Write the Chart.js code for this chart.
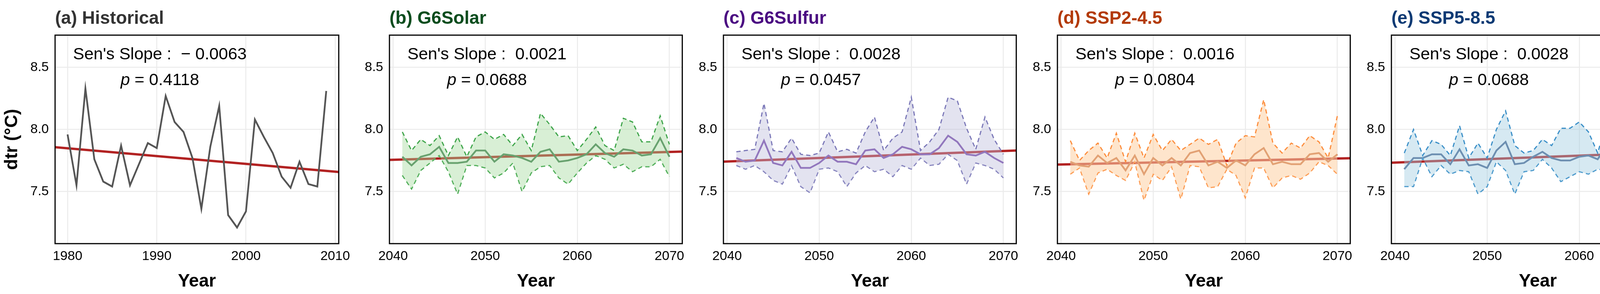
<!DOCTYPE html>
<html><head><meta charset="utf-8">
<meta name="viewport" content="width=4357">
<script src="https://cdn.jsdelivr.net/npm/chart.js@4.4.0/dist/chart.umd.min.js"></script>
<style>
html{margin:0;overflow:hidden}
body{margin:0;background:#fff;width:4357px;height:753px;position:relative;overflow:hidden;font-family:"Liberation Sans",Arial,sans-serif}
.cv{position:absolute;top:0;height:753px}
.ttl{position:absolute;top:18px;font-weight:bold;font-size:46px;white-space:nowrap}
.ann{position:absolute;top:104px;font-size:43px;line-height:66px;text-align:center;white-space:pre;color:#000}
</style></head><body>
<script>
// ---- data ----
const histYears = [1980,1981,1982,1983,1984,1985,1986,1987,1988,1989,1990,1991,1992,1993,1994,1995,1996,1997,1998,1999,2000,2001,2002,2003,2004,2005,2006,2007,2008,2009];
const histDtr = [7.96,7.55,8.33,7.76,7.58,7.54,7.87,7.55,7.72,7.89,7.85,8.27,8.06,7.98,7.77,7.36,7.86,8.19,7.31,7.21,7.34,8.08,7.94,7.81,7.62,7.53,7.74,7.56,7.54,8.31];
const futYears = [2041,2042,2043,2044,2045,2046,2047,2048,2049,2050,2051,2052,2053,2054,2055,2056,2057,2058,2059,2060,2061,2062,2063,2064,2065,2066,2067,2068,2069,2070];
const solarMean = [7.78,7.71,7.78,7.80,7.86,7.73,7.73,7.74,7.83,7.83,7.74,7.80,7.79,7.77,7.74,7.82,7.84,7.74,7.75,7.77,7.80,7.88,7.81,7.78,7.84,7.83,7.79,7.80,7.93,7.78];
const solarUp = [7.98,7.83,7.92,7.87,7.95,7.79,7.94,7.78,7.94,7.98,7.92,7.96,7.87,7.96,7.83,8.13,8.04,7.94,7.95,7.83,7.92,8.02,7.87,7.83,8.09,8.06,7.90,7.90,8.11,7.88];
const solarLow = [7.63,7.52,7.67,7.73,7.79,7.66,7.48,7.71,7.71,7.69,7.61,7.65,7.73,7.50,7.65,7.70,7.71,7.61,7.56,7.65,7.73,7.79,7.76,7.69,7.72,7.66,7.70,7.70,7.76,7.62];
const sulfurMean = [7.77,7.74,7.75,7.91,7.73,7.71,7.82,7.69,7.69,7.73,7.79,7.74,7.74,7.72,7.83,7.84,7.77,7.80,7.86,7.84,7.80,7.80,7.85,7.95,7.90,7.80,7.79,7.82,7.77,7.73];
const sulfurUp = [7.82,7.83,7.84,8.21,7.83,7.82,7.93,7.80,7.79,7.81,7.98,7.82,7.84,7.81,7.98,8.10,7.83,7.93,7.98,8.26,7.83,7.90,8.00,8.26,8.23,8.01,7.84,8.10,7.92,7.80];
const sulfurLow = [7.71,7.68,7.71,7.66,7.59,7.56,7.71,7.54,7.49,7.68,7.69,7.66,7.54,7.65,7.71,7.66,7.68,7.62,7.71,7.68,7.77,7.71,7.72,7.80,7.75,7.56,7.73,7.71,7.68,7.61];
const ssp245Mean = [7.74,7.71,7.70,7.79,7.73,7.77,7.67,7.79,7.64,7.77,7.71,7.77,7.71,7.81,7.83,7.71,7.74,7.69,7.75,7.71,7.80,7.85,7.72,7.74,7.72,7.72,7.80,7.81,7.74,7.80];
const ssp245Up = [7.91,7.75,7.83,7.89,7.77,7.97,7.74,7.97,7.77,7.96,7.83,7.92,7.83,7.88,7.93,7.88,7.92,7.71,7.89,7.95,7.94,8.24,7.89,7.81,7.89,7.85,7.95,7.90,7.77,8.11];
const ssp245Low = [7.64,7.69,7.48,7.65,7.68,7.63,7.59,7.74,7.43,7.64,7.59,7.70,7.44,7.71,7.70,7.53,7.54,7.68,7.63,7.45,7.69,7.69,7.53,7.61,7.63,7.60,7.65,7.74,7.71,7.64];
const ssp585Mean = [7.68,7.77,7.77,7.80,7.80,7.72,7.84,7.71,7.72,7.69,7.83,7.90,7.72,7.73,7.78,7.82,7.77,7.75,7.75,7.78,7.79,7.76,7.87,7.78,7.85,7.77,7.85,7.71,7.80,7.89];
const ssp585Up = [7.81,8.00,7.79,7.91,7.88,7.79,8.03,7.77,7.89,7.77,8.00,8.15,7.87,7.81,7.83,7.92,7.87,8.01,8.01,8.06,7.98,7.81,8.07,7.93,8.09,7.80,8.02,7.75,8.00,8.14];
const ssp585Low = [7.54,7.54,7.77,7.62,7.71,7.64,7.67,7.66,7.48,7.54,7.74,7.67,7.48,7.66,7.67,7.76,7.69,7.58,7.62,7.66,7.64,7.68,7.67,7.71,7.73,7.74,7.73,7.68,7.71,7.76];
// trend endpoints [value at axis min, value at axis max]
const histTrend = [7.857,7.657];
const solarTrend = [7.755,7.822];
const sulfurTrend = [7.741,7.830];
const ssp245Trend = [7.717,7.768];
const ssp585Trend = [7.732,7.821];
const histXRange = [1978.6,2010.4];
const futXRange = [2039.6,2071.4];
const histTicks = [1980,1990,2000,2010];
const futTicks = [2040,2050,2060,2070];
const yTicks = [7.5,8.0,8.5];
const yRange = [7.08,8.76];

const panels = [
 {title:'(a) Historical',tc:'#333333',left:141,years:histYears,mean:histDtr,trend:histTrend,xr:histXRange,xt:histTicks,slope:'\u2212 0.0063',p:'0.4118',lc:'#555555'},
 {title:'(b) G6Solar',tc:'#0b4d1e',left:997,years:futYears,mean:solarMean,up:solarUp,low:solarLow,trend:solarTrend,xr:futXRange,xt:futTicks,slope:'0.0021',p:'0.0688',lc:'#3f7a50',dc:'#3ea54a',fc:'rgba(161,217,155,0.42)'},
 {title:'(c) G6Sulfur',tc:'#4b0c82',left:1852,years:futYears,mean:sulfurMean,up:sulfurUp,low:sulfurLow,trend:sulfurTrend,xr:futXRange,xt:futTicks,slope:'0.0028',p:'0.0457',lc:'#7446a8',dc:'#7b78b8',fc:'rgba(188,189,220,0.42)'},
 {title:'(d) SSP2-4.5',tc:'#b33a06',left:2707,years:futYears,mean:ssp245Mean,up:ssp245Up,low:ssp245Low,trend:ssp245Trend,xr:futXRange,xt:futTicks,slope:'0.0016',p:'0.0804',lc:'#c0693d',dc:'#fd8d3c',fc:'rgba(253,208,162,0.55)'},
 {title:'(e) SSP5-8.5',tc:'#0c3a74',left:3562,years:futYears,mean:ssp585Mean,up:ssp585Up,low:ssp585Low,trend:ssp585Trend,xr:futXRange,xt:futTicks,slope:'0.0028',p:'0.0688',lc:'#4a6590',dc:'#3a8fc8',fc:'rgba(158,202,225,0.42)'}
];
const PW=755, TOP=90, BOT=624;
const frame={id:'frame',afterDraw(c){const a=c.chartArea,x=c.ctx;x.save();x.strokeStyle='#000';x.lineWidth=3;x.strokeRect(a.left,a.top,a.right-a.left,a.bottom-a.top);x.restore();}};
const pts=(xs,ys)=>xs.map((v,i)=>({x:v,y:ys[i]}));
panels.forEach((P,i)=>{
  const yw = i===0?141:110;
  const div=document.createElement('div');div.className='cv';
  div.style.left=(P.left-yw)+'px';div.style.width=(yw+PW+12)+'px';
  const cv=document.createElement('canvas');div.appendChild(cv);document.body.appendChild(div);
  const t=document.createElement('div');t.className='ttl';t.style.left=P.left+'px';t.style.color=P.tc;t.textContent=P.title;document.body.appendChild(t);
  const an=document.createElement('div');an.className='ann';an.style.left=(P.left+46)+'px';
  an.innerHTML="Sen's Slope :  "+P.slope+"<br><i>p</i> = "+P.p;document.body.appendChild(an);
  const ds=[];
  if(P.up){
    ds.push({data:pts(P.years,P.up),borderColor:P.dc,borderWidth:3,borderDash:[11,8],backgroundColor:P.fc,fill:'+1',pointRadius:0,tension:0});
    ds.push({data:pts(P.years,P.low),borderColor:P.dc,borderWidth:3,borderDash:[11,8],fill:false,pointRadius:0,tension:0});
  }
  ds.push({data:pts(P.years,P.mean),borderColor:P.lc,borderWidth:4.5,fill:false,pointRadius:0,tension:0});
  ds.push({data:pts(P.xr,P.trend),borderColor:'#b22222',borderWidth:6,fill:false,pointRadius:0,tension:0});
  new Chart(cv,{type:'line',data:{datasets:ds},plugins:[frame],
   options:{responsive:true,maintainAspectRatio:false,animation:false,devicePixelRatio:1,
    layout:{padding:{top:TOP,right:12,left:0,bottom:0}},
    plugins:{legend:{display:false},tooltip:{enabled:false}},
    scales:{
     x:{type:'linear',min:P.xr[0],max:P.xr[1],
        afterBuildTicks:s=>{s.ticks=P.xt.map(v=>({value:v}));},
        afterFit:s=>{s.height=753-BOT;},
        grid:{color:'#ebebeb',lineWidth:2.5,drawTicks:false},border:{display:false},
        ticks:{color:'#000',font:{size:34,family:'Liberation Sans'},padding:12,maxRotation:0,callback:v=>String(v)},
        title:{display:true,text:'Year',color:'#000',font:{size:46,weight:'bold',family:'Liberation Sans'},padding:{top:0}}},
     y:{min:yRange[0],max:yRange[1],
        afterBuildTicks:s=>{s.ticks=yTicks.map(v=>({value:v}));},
        afterFit:s=>{s.width=yw;},
        grid:{color:'#ebebeb',lineWidth:2.5,drawTicks:false},border:{display:false},
        ticks:{color:'#000',font:{size:34,family:'Liberation Sans'},padding:16,callback:v=>v.toFixed(1)},
        title:{display:i===0,text:'dtr (°C)',color:'#000',font:{size:46,weight:'bold',family:'Liberation Sans'},padding:{bottom:4}}}
    }}});
});
</script></body></html>
